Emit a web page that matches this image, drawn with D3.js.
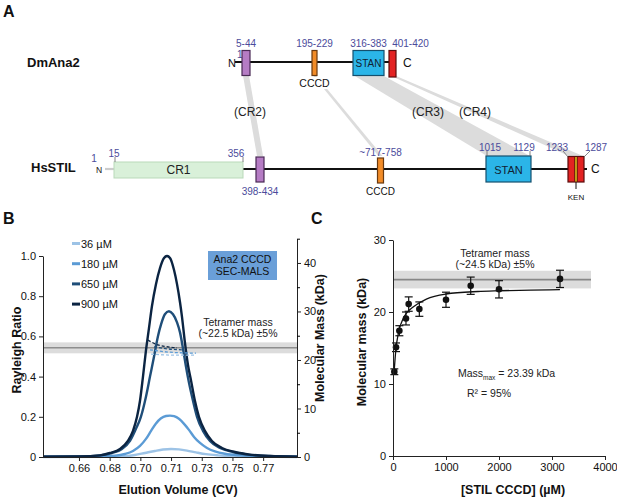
<!DOCTYPE html>
<html><head><meta charset="utf-8">
<script src="https://cdn.jsdelivr.net/npm/d3@7"></script>
<style>
body{margin:0;background:#fff;}
svg{font-family:Arial,"Liberation Sans",sans-serif;}
</style></head>
<body><svg id="chart" width="617" height="500"></svg>
<script>
// ---------------- DATA ----------------
// Panel A: protein domains (residue numbers)
const dmDomains = [
  {type:"cr2", start:5, end:44, label:"5-44"},
  {type:"cccd", start:195, end:229, label:"195-229", below:"CCCD"},
  {type:"stan", start:316, end:383, label:"316-383", inner:"STAN"},
  {type:"cr4", start:401, end:420, label:"401-420"}
];
const hsDomains = [
  {type:"cr1", start:15, end:356, inner:"CR1"},
  {type:"cr2", start:398, end:434, below:"398-434"},
  {type:"cccd", start:717, end:758, label:"~717-758", below:"CCCD"},
  {type:"stan", start:1015, end:1129, inner:"STAN"},
  {type:"cr4", start:1233, end:1287}
];
const hsResidueLabels = ["1","15","356","1015","1129","1233","1287"];
const conservedRegions = [
  {name:"(CR2)", dm:[5,44], hs:[398,434]},
  {name:"", dm:[195,229], hs:[717,758]},
  {name:"(CR3)", dm:[316,383], hs:[1015,1129]},
  {name:"(CR4)", dm:[401,420], hs:[1233,1287]}
];

// Panel B: SEC-MALS traces (elution volume CV, Rayleigh ratio)
const seriesNames = ["36 µM","180 µM","650 µM","900 µM"];
const rr36 = [[0.6395,0],[0.6777,0.001],[0.6862,0.004],[0.6919,0.01],[0.6976,0.02],[0.7033,0.03],[0.7079,0.037],[0.7125,0.04],[0.7170,0.038],[0.7216,0.032],[0.7267,0.023],[0.7324,0.014],[0.7393,0.008],[0.7472,0.004],[0.7575,0.002],[0.7843,0]];
const rr180 = [[0.6395,0.001],[0.6720,0.002],[0.6805,0.006],[0.6862,0.015],[0.6908,0.03],[0.6948,0.055],[0.6982,0.09],[0.7011,0.13],[0.7039,0.167],[0.7068,0.193],[0.7096,0.204],[0.7119,0.206],[0.7142,0.203],[0.7170,0.19],[0.7199,0.165],[0.7227,0.135],[0.7256,0.1],[0.7290,0.07],[0.7330,0.045],[0.7375,0.028],[0.7432,0.016],[0.7518,0.008],[0.7632,0.004],[0.7843,0.001]];
const rr650 = [[0.6395,0.002],[0.6606,0.003],[0.6720,0.008],[0.6788,0.02],[0.6845,0.04],[0.6891,0.08],[0.6925,0.14],[0.6953,0.2],[0.6982,0.3],[0.7005,0.4],[0.7028,0.5],[0.7050,0.6],[0.7068,0.66],[0.7090,0.71],[0.7113,0.725],[0.7136,0.71],[0.7159,0.67],[0.7176,0.62],[0.7193,0.54],[0.7210,0.45],[0.7227,0.37],[0.7250,0.28],[0.7273,0.2],[0.7307,0.13],[0.7347,0.08],[0.7404,0.045],[0.7478,0.025],[0.7564,0.012],[0.7678,0.005],[0.7843,0.002]];
const rr900 = [[0.6395,0.002],[0.6606,0.003],[0.6720,0.008],[0.6777,0.02],[0.6834,0.04],[0.6879,0.08],[0.6908,0.13],[0.6931,0.2],[0.6948,0.28],[0.6965,0.4],[0.6982,0.53],[0.6999,0.64],[0.7016,0.75],[0.7039,0.86],[0.7062,0.94],[0.7085,0.99],[0.7102,1.0],[0.7119,0.99],[0.7142,0.93],[0.7159,0.86],[0.7176,0.77],[0.7187,0.7],[0.7204,0.57],[0.7221,0.46],[0.7239,0.38],[0.7261,0.28],[0.7284,0.2],[0.7318,0.13],[0.7358,0.08],[0.7415,0.045],[0.7489,0.025],[0.7575,0.012],[0.7689,0.005],[0.7843,0.002]];
// molar mass across peak (kDa)
const mm36 = [[0.7011,21.2],[0.7142,21.0],[0.7267,21.0]];
const mm180 = [[0.7005,22.1],[0.7119,21.6],[0.7267,21.4]];
const mm650 = [[0.7028,22.7],[0.7102,22.3],[0.7187,22.1]];
const mm900 = [[0.6993,24.1],[0.7050,23.1],[0.7108,22.7],[0.7159,22.5]];
const xTickValsB = [0.66,0.6775,0.695,0.7125,0.73,0.7475,0.765];
const xTickLabelsB = ["0.66","0.68","0.70","0.71","0.73","0.75","0.77"];
const yTickValsB = [0,0.2,0.4,0.6,0.8,1.0];
const yTickLabelsB = ["0","0.2","0.4","0.6","0.8","1.0"];
const yRTickVals = [0,10,20,30,40];
const tetramerB = 22.5;

// Panel C: mass vs concentration
const conc = [25,57,120,245,296,497,1000,1466,2000,3151];
const mass = [11.7,15.1,17.4,19.1,21.1,20.4,21.7,23.65,23.15,24.6];
const massErr = [0.4,0.6,0.7,0.9,1.0,1.0,1.05,1.2,1.2,1.2];
const fitConc = [20,40,60,90,130,180,250,380,630,1000,1600,2000,2600,3150];
const fitMass = [11.6,13.6,15.2,16.6,17.9,18.9,19.8,20.7,21.8,22.5,22.85,22.95,23.05,23.1];
const xTickValsC = [0,1000,2000,3000,4000];
const yTickValsC = [0,10,20,30];
const tetramerC = 24.5;

// ---------------- STYLES ----------------
const FONT = 'Arial,"Liberation Sans",sans-serif';
const numColor = "#4b4b9b";
const domainStyle = {
  cr1:{fill:"#d9f0d9", stroke:"#b9d9b9"},
  cr2:{fill:"#b57cc4", stroke:"#4a2a55"},
  cccd:{fill:"#f28c28", stroke:"#6a3a10"},
  stan:{fill:"#2bb5e8", stroke:"#14506e"},
  cr4:{fill:"#e32222", stroke:"#5a0d0d"}
};
const seriesColors = ["#9dc3e6","#5b9bd5","#1f4e79","#0b2442"];
const bandColor = "#dcdcdc";

const svg = d3.select("#chart");
svg.append("rect").attr("width",617).attr("height",500).attr("fill","#fff");

function txt(g,x,y,s,opt={}){
  return g.append("text").attr("x",x).attr("y",y).text(s)
    .attr("font-size",opt.size||11).attr("font-weight",opt.bold?"bold":"normal")
    .attr("fill",opt.color||"#111").attr("text-anchor",opt.anchor||"start");
}

// ---------------- PANEL A ----------------
const A = svg.append("g");
txt(A,3,17,"A",{size:16,bold:true});
const xDm = d3.scaleLinear().domain([1,5,44,195,229,316,383,401,420]).range([236,242,250,312,317,353,384,389,396]);
const xHs = d3.scaleLinear().domain([1,15,356,398,434,717,758,1015,1129,1233,1287]).range([105,114,243,256,264,377.5,383.5,486,531,568,584]);
const dmY = 62, hsY = 169;
const dmBox = {cr2:[50.5,75.5],cccd:[50.5,75.5],stan:[50.5,75.5],cr4:[50.5,77]};
const hsBox = {cr1:[162,178],cr2:[157,182],cccd:[158,183],stan:[156,182],cr4:[156.5,182]};
const regionLabelX = {"(CR2)":250, "(CR3)":428, "(CR4)":475};

// grey conserved-region bands
conservedRegions.forEach(c=>{
  const pts = [[xDm(c.dm[0])+1,dmBox.cr2[1]],[xDm(c.dm[1])-1,dmBox.cr2[1]],[xHs(c.hs[1])-1,hsBox.stan[0]],[xHs(c.hs[0])+1,hsBox.stan[0]]];
  A.append("path").attr("d",d3.line()(pts)+"Z").attr("fill",bandColor);
  if(c.name) txt(A, regionLabelX[c.name], 116, c.name, {size:12, anchor:"middle", color:"#222"});
});
// CCCD label sits on white
A.append("rect").attr("x",298).attr("y",77).attr("width",36).attr("height",12).attr("fill","#fff");

// DmAna2
txt(A,27,67,"DmAna2",{size:13,bold:true});
A.append("line").attr("x1",235).attr("x2",xDm(420)).attr("y1",dmY).attr("y2",dmY).attr("stroke","#111").attr("stroke-width",2.2);
txt(A,228,67,"N",{size:11});
txt(A,237,58,"1",{size:10,color:numColor});
dmDomains.forEach(d=>{
  const st = domainStyle[d.type], b = dmBox[d.type];
  A.append("rect").attr("x",xDm(d.start)).attr("y",b[0]).attr("width",xDm(d.end)-xDm(d.start)).attr("height",b[1]-b[0])
    .attr("fill",st.fill).attr("stroke",st.stroke).attr("stroke-width",1.2);
  const cx = (xDm(d.start)+xDm(d.end))/2;
  if(d.label) txt(A, d.type==="cr4"?cx+18:cx, 47, d.label,{size:10,color:numColor,anchor:"middle"});
  if(d.inner) txt(A,cx,67,d.inner,{size:10,anchor:"middle",color:"#123"});
  if(d.below) txt(A,cx,87,d.below,{size:10.5,anchor:"middle"});
});
txt(A,403,67,"C",{size:12});

// HsSTIL
txt(A,31,172,"HsSTIL",{size:13,bold:true});
A.append("line").attr("x1",105).attr("x2",114).attr("y1",hsY).attr("y2",hsY).attr("stroke","#ccc").attr("stroke-width",2.2);
A.append("line").attr("x1",243).attr("x2",587).attr("y1",hsY).attr("y2",hsY).attr("stroke","#111").attr("stroke-width",2.2);
txt(A,96,173,"N",{size:8.5});
hsDomains.forEach(d=>{
  const st = domainStyle[d.type], b = hsBox[d.type];
  A.append("rect").attr("x",xHs(d.start)).attr("y",b[0]).attr("width",xHs(d.end)-xHs(d.start)).attr("height",b[1]-b[0])
    .attr("fill",st.fill).attr("stroke",st.stroke).attr("stroke-width",d.type==="cr1"?1:1.2);
  const cx = (xHs(d.start)+xHs(d.end))/2;
  if(d.label) txt(A,cx,156,d.label,{size:10,color:numColor,anchor:"middle"});
  if(d.inner) txt(A,cx,174,d.inner,{size:d.type==="cr1"?12:11,anchor:"middle",color:d.type==="cr1"?"#222":"#123"});
  if(d.below) txt(A,cx,195,d.below,{size:10,anchor:"middle",color:d.type==="cr2"?numColor:"#111"});
});
// KEN motif in red box
const kenX = (xHs(1233)+xHs(1287))/2;
A.append("line").attr("x1",kenX).attr("x2",kenX).attr("y1",157).attr("y2",181.5).attr("stroke","#3a1a00").attr("stroke-width",3.2);
A.append("line").attr("x1",kenX).attr("x2",kenX).attr("y1",157).attr("y2",181.5).attr("stroke","#f5d020").attr("stroke-width",1.4);
A.append("line").attr("x1",kenX).attr("x2",kenX).attr("y1",182).attr("y2",189).attr("stroke","#111").attr("stroke-width",1);
txt(A,kenX,200,"KEN",{size:8,anchor:"middle"});
txt(A,591,173,"C",{size:12});
// residue number labels with ticks
const hsLabPos = {"1":[94,162,null],"15":[114,157,[115,157,115,162]],"356":[236,157,[243,157,243,162]],
  "1015":[490,151,[487,151,487,156]],"1129":[524,151,[530,151,530,156]],"1233":[557,151,[563,151,568,157]],"1287":[596,151,[590,151,584,157]]};
hsResidueLabels.forEach(l=>{
  const p = hsLabPos[l];
  txt(A,p[0],p[1],l,{size:10,color:numColor,anchor:"middle"});
  if(p[2]) A.append("line").attr("x1",p[2][0]).attr("y1",p[2][1]).attr("x2",p[2][2]).attr("y2",p[2][3]).attr("stroke","#666").attr("stroke-width",0.8);
});

// ---------------- PANEL B ----------------
const B = svg.append("g").attr("font-family",FONT);
txt(B,3,224,"B",{size:16,bold:true});
const xB = d3.scaleLinear().domain([0.6395,0.7843]).range([43,297]);
const yB = d3.scaleLinear().domain([0,1]).range([457,256]);
const yR = d3.scaleLinear().domain([0,45]).range([457,238.7]);

// tetramer band
B.append("rect").attr("x",43).attr("width",254).attr("y",yR(tetramerB*1.05)).attr("height",yR(tetramerB*0.95)-yR(tetramerB*1.05)).attr("fill",bandColor);
B.append("line").attr("x1",43).attr("x2",297).attr("y1",yR(tetramerB)).attr("y2",yR(tetramerB)).attr("stroke","#666").attr("stroke-width",1);

const lineB = d3.line().x(d=>xB(d[0])).y(d=>yB(d[1])).curve(d3.curveMonotoneX);
[rr36,rr180,rr650,rr900].forEach((s,i)=>{
  B.append("path").attr("d",lineB(s)).attr("fill","none").attr("stroke",seriesColors[i]).attr("stroke-width",2.4);
});
const lineM = d3.line().x(d=>xB(d[0])).y(d=>yR(d[1])).curve(d3.curveMonotoneX);
[mm36,mm180,mm650,mm900].forEach((s,i)=>{
  B.append("path").attr("d",lineM(s)).attr("fill","none").attr("stroke",seriesColors[i]).attr("stroke-width",1.3).attr("stroke-dasharray","3,2");
});

// axes
const axB = B.append("g").attr("transform","translate(0,457)")
  .call(d3.axisBottom(xB).tickValues(xTickValsB).tickFormat((d,i)=>xTickLabelsB[i]).tickSize(4).tickSizeOuter(0));
const ayB = B.append("g").attr("transform","translate(43,0)")
  .call(d3.axisLeft(yB).tickValues(yTickValsB).tickFormat((d,i)=>yTickLabelsB[i]).tickSize(4).tickSizeOuter(0));
const ayR = B.append("g").attr("transform","translate(297,0)")
  .call(d3.axisRight(yR).tickValues(yRTickVals).tickSize(4).tickSizeOuter(0));
B.append("g").attr("transform","translate(297,0)")
  .call(d3.axisRight(yR).tickValues(yRTickVals.map(v=>v+5)).tickFormat("").tickSize(3).tickSizeOuter(0))
  .select(".domain").remove();
[axB,ayB,ayR].forEach(g=>{g.selectAll("text").attr("font-size",11).attr("fill","#111").attr("font-family",FONT);
  g.selectAll("line,path").attr("stroke","#222");});

txt(B,178,494,"Elution Volume (CV)",{size:12.5,bold:true,anchor:"middle"});
B.append("text").attr("transform","translate(21,350) rotate(-90)").attr("text-anchor","middle")
  .attr("font-size",12.5).attr("font-weight","bold").attr("fill","#111").text("Rayleigh Ratio");
B.append("text").attr("transform","translate(324,338) rotate(-90)").attr("text-anchor","middle")
  .attr("font-size",12.5).attr("font-weight","bold").attr("fill","#111").text("Molecular Mass (kDa)");

// legend
seriesNames.forEach((n,i)=>{
  const y = 243.5 + i*20.2;
  B.append("line").attr("x1",72).attr("x2",80).attr("y1",y).attr("y2",y).attr("stroke",seriesColors[i]).attr("stroke-width",3);
  txt(B,81,y+4,n,{size:11});
});
// label box
B.append("rect").attr("x",208).attr("y",251).attr("width",69).attr("height",29).attr("fill","#6a9fd8");
txt(B,242.5,263,"Ana2 CCCD",{size:10.5,anchor:"middle"});
txt(B,242.5,275,"SEC-MALS",{size:10.5,anchor:"middle"});
txt(B,238,326,"Tetramer mass",{size:10.5,anchor:"middle",color:"#222"});
txt(B,238,337,"(~22.5 kDa) ±5%",{size:10.5,anchor:"middle",color:"#222"});

// ---------------- PANEL C ----------------
const C = svg.append("g").attr("font-family",FONT);
txt(C,311,224,"C",{size:16,bold:true});
const xC = d3.scaleLinear().domain([0,4000]).range([393,605]);
const yC = d3.scaleLinear().domain([0,30]).range([456,240]);

C.append("rect").attr("x",393).attr("width",198).attr("y",yC(tetramerC*1.05)).attr("height",yC(tetramerC*0.95)-yC(tetramerC*1.05)).attr("fill",bandColor);
C.append("line").attr("x1",393).attr("x2",591).attr("y1",yC(tetramerC)).attr("y2",yC(tetramerC)).attr("stroke","#888").attr("stroke-width",1.6);

const fitPts = fitConc.map((c,i)=>[c,fitMass[i]]);
C.append("path").attr("d",d3.line().x(d=>xC(d[0])).y(d=>yC(d[1])).curve(d3.curveMonotoneX)(fitPts))
  .attr("fill","none").attr("stroke","#111").attr("stroke-width",1.3);

conc.forEach((c,i)=>{
  const x = xC(c), y1 = yC(mass[i]-massErr[i]), y2 = yC(mass[i]+massErr[i]);
  C.append("line").attr("x1",x).attr("x2",x).attr("y1",y1).attr("y2",y2).attr("stroke","#111").attr("stroke-width",1.2);
  [y1,y2].forEach(y=>C.append("line").attr("x1",x-4).attr("x2",x+4).attr("y1",y).attr("y2",y).attr("stroke","#111").attr("stroke-width",1.2));
  C.append("circle").attr("cx",x).attr("cy",yC(mass[i])).attr("r",3.3).attr("fill","#111");
});

const axC = C.append("g").attr("transform","translate(0,456)")
  .call(d3.axisBottom(xC).tickValues(xTickValsC).tickFormat(d3.format("d")).tickSize(4).tickSizeOuter(0));
const ayC = C.append("g").attr("transform","translate(393,0)")
  .call(d3.axisLeft(yC).tickValues(yTickValsC).tickSize(4).tickSizeOuter(0));
[axC,ayC].forEach(g=>{g.selectAll("text").attr("font-size",11).attr("fill","#111").attr("font-family",FONT);
  g.selectAll("line,path").attr("stroke","#222");});

txt(C,513,494,"[STIL CCCD] (µM)",{size:12.5,bold:true,anchor:"middle"});
C.append("text").attr("transform","translate(366,342) rotate(-90)").attr("text-anchor","middle")
  .attr("font-size",12.5).attr("font-weight","bold").attr("fill","#111").text("Molecular mass (kDa)");
txt(C,495,257,"Tetramer mass",{size:10.5,anchor:"middle",color:"#222"});
txt(C,495,268,"(~24.5 kDa) ±5%",{size:10.5,anchor:"middle",color:"#222"});
const mt = C.append("text").attr("x",458).attr("y",377).attr("font-size",10.5).attr("fill","#222");
mt.append("tspan").text("Mass");
mt.append("tspan").attr("font-size",6.5).attr("dy",3).text("max");
mt.append("tspan").attr("dy",-3).text(" = 23.39 kDa");
txt(C,467,397,"R² = 95%",{size:10.5,color:"#222"});
</script></body></html>
